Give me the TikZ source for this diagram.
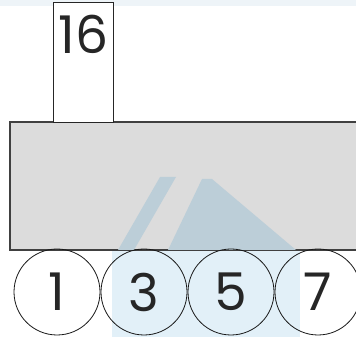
\documentclass[tikz,border=0pt]{standalone}
\usepackage{fontspec}
\setmainfont{Poppins}
\definecolor{topstrip}{HTML}{EEF4F8}
\definecolor{platefill}{HTML}{DCDCDC}
\definecolor{wmdark}{HTML}{BCCED8}
\definecolor{wmlight}{HTML}{E2F0F8}
\begin{document}
\begin{tikzpicture}[x=1pt,y=1pt,
  digit/.style={font=\fontsize{52}{52}\selectfont, text=black!85},
  ball/.style={circle, draw=black!90, line width=0.8pt, minimum size=86pt, inner sep=0pt},
  plate/.style={draw=black!75, line width=1.2pt, fill=platefill},
  post/.style={draw=black!85, line width=0.8pt, fill=white}]
\useasboundingbox (0,0) rectangle (356,337);
\fill[white] (0,0) rectangle (356,337);
\fill[topstrip] (0,331) rectangle (356,337);
\begin{scope}
\clip (0,0) rectangle (356,337);
% faint background watermark
\fill[wmlight] (112,0) -- (300,0) -- (300,86) -- (112,86) -- cycle;
% plate
\node[plate, minimum width=352pt, minimum height=127.4pt, inner sep=0pt, anchor=south west] (plate) at (10,86.3) {};
\fill[wmdark] (168,87) -- (202,158) -- (212,158) -- (296,87) -- cycle;
\fill[wmdark] (118,87) -- (160,160) -- (176,160) -- (134,87) -- cycle;
\draw[draw=black!75, line width=1.2pt] (plate.south west) rectangle (plate.north east);
% post
\node[post, minimum width=60.6pt, minimum height=120pt, inner sep=0pt, anchor=south west] (post) at (52.7,213.7) {};
\node[digit, anchor=center] (n16) at ([yshift=-32pt]post.north) {16};
% balls
\node[ball] (b1) at (57,45) {};
\node[ball] (b3) at (144,45) {};
\node[ball] (b5) at (231,45) {};
\node[ball] (b7) at (318,45) {};
\node[digit] at (b1) {1};
\node[digit] at (b3) {3};
\node[digit] at (b5) {5};
\node[digit] at (b7) {7};
\end{scope}
\end{tikzpicture}
\end{document}
